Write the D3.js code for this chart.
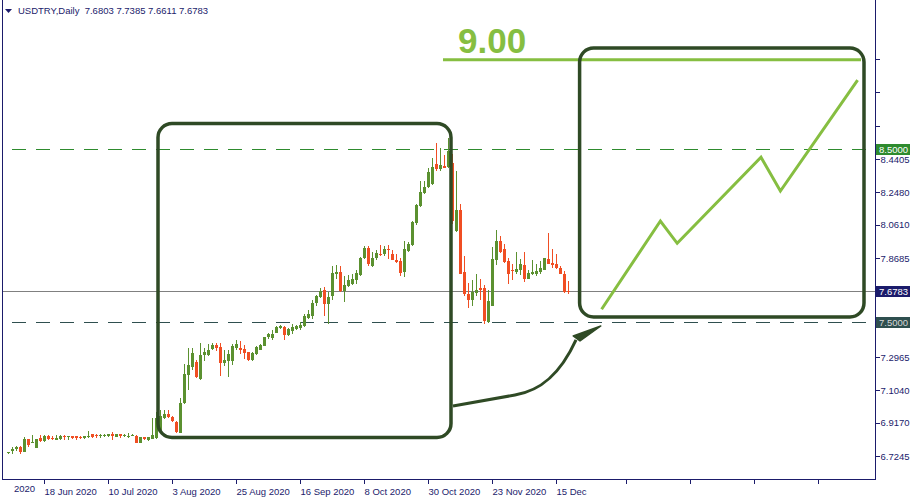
<!DOCTYPE html>
<html><head><meta charset="utf-8">
<script src="https://cdn.jsdelivr.net/npm/d3@7"></script>
<style>html,body{margin:0;padding:0;background:#fff;} svg{display:block;}</style>
</head><body>
<svg id="c" width="915" height="500"></svg>
<script>
// ---------- data ----------
const symbolTitle = "USDTRY,Daily  7.6803 7.7385 7.6611 7.6783";
const opens = [6.739,6.755,6.765,6.777,6.750,6.823,6.800,6.769,6.830,6.811,6.842,6.830,6.819,6.823,6.842,6.834,6.839,6.839,6.834,6.827,6.834,6.850,6.846,6.839,6.842,6.839,6.850,6.834,6.850,6.839,6.839,6.842,6.842,6.799,6.834,6.815,6.823,6.830,6.863,6.944,6.967,6.950,6.923,6.858,7.031,7.194,7.239,7.270,7.170,7.308,7.308,7.343,7.366,7.354,7.262,7.274,7.274,7.350,7.350,7.343,7.324,7.281,7.316,7.339,7.362,7.412,7.408,7.438,7.462,7.470,7.424,7.447,7.458,7.464,7.473,7.522,7.535,7.609,7.643,7.682,7.605,7.647,7.778,7.790,7.678,7.709,7.720,7.743,7.771,7.867,7.928,7.824,7.870,7.893,7.890,7.920,7.893,7.859,7.851,7.788,7.909,7.944,8.071,8.171,8.244,8.278,8.294,8.412,8.383,8.400,8.394,8.420,8.025,8.146,7.786,7.662,7.628,7.666,7.694,7.694,7.497,7.593,7.859,7.966,7.920,7.851,7.801,7.790,7.797,7.828,7.747,7.774,7.778,7.790,7.801,7.863,7.840,7.836,7.812,7.774,7.6803];
const highs = [6.748,6.777,6.784,6.784,6.834,6.824,6.846,6.824,6.846,6.846,6.846,6.839,6.846,6.846,6.846,6.839,6.839,6.842,6.842,6.839,6.869,6.854,6.854,6.854,6.854,6.854,6.862,6.850,6.854,6.850,6.858,6.850,6.846,6.834,6.835,6.835,6.946,6.979,6.990,6.990,6.990,6.957,6.925,7.062,7.258,7.350,7.350,7.281,7.378,7.350,7.373,7.378,7.378,7.378,7.335,7.335,7.373,7.393,7.389,7.366,7.328,7.328,7.362,7.373,7.413,7.438,7.451,7.477,7.481,7.477,7.466,7.486,7.481,7.497,7.543,7.566,7.624,7.655,7.694,7.701,7.674,7.821,7.830,7.824,7.763,7.771,7.778,7.798,7.874,7.936,7.940,7.905,7.917,7.944,7.940,7.944,7.913,7.890,7.870,7.966,7.962,8.082,8.182,8.313,8.313,8.386,8.448,8.533,8.504,8.464,8.562,8.470,8.371,8.179,7.878,7.724,7.740,7.778,7.747,7.713,7.682,7.932,8.032,7.994,7.948,7.870,7.836,7.905,7.863,7.905,7.798,7.859,7.832,7.851,7.871,8.013,7.920,7.890,7.824,7.793,7.7385];
const lows = [6.736,6.735,6.755,6.738,6.746,6.778,6.799,6.768,6.807,6.807,6.815,6.815,6.818,6.819,6.819,6.819,6.823,6.819,6.823,6.823,6.830,6.830,6.830,6.830,6.834,6.834,6.819,6.834,6.830,6.834,6.827,6.839,6.797,6.797,6.819,6.811,6.822,6.821,6.858,6.938,6.943,6.921,6.858,6.856,7.023,7.104,7.220,7.174,7.162,7.274,7.304,7.335,7.331,7.189,7.247,7.181,7.250,7.335,7.312,7.285,7.274,7.274,7.308,7.335,7.361,7.401,7.396,7.434,7.458,7.396,7.416,7.431,7.451,7.454,7.470,7.516,7.516,7.593,7.639,7.535,7.489,7.624,7.747,7.671,7.616,7.701,7.713,7.720,7.767,7.863,7.821,7.816,7.855,7.878,7.878,7.863,7.855,7.838,7.767,7.759,7.901,7.936,8.059,8.163,8.236,8.271,8.290,8.371,8.371,8.389,8.389,8.065,8.019,7.774,7.651,7.581,7.593,7.651,7.628,7.486,7.495,7.592,7.828,7.897,7.840,7.720,7.740,7.774,7.771,7.732,7.745,7.771,7.767,7.774,7.800,7.832,7.809,7.805,7.774,7.666,7.6611];
const closes = [6.745,6.765,6.777,6.746,6.823,6.788,6.803,6.823,6.811,6.842,6.823,6.823,6.830,6.839,6.834,6.839,6.830,6.830,6.827,6.839,6.842,6.834,6.842,6.846,6.846,6.850,6.842,6.850,6.839,6.846,6.842,6.846,6.799,6.834,6.823,6.834,6.846,6.944,6.956,6.967,6.950,6.927,6.862,7.031,7.198,7.250,7.320,7.181,7.308,7.324,7.339,7.366,7.350,7.262,7.281,7.316,7.362,7.373,7.335,7.320,7.281,7.320,7.354,7.366,7.412,7.428,7.431,7.470,7.477,7.424,7.458,7.470,7.477,7.484,7.534,7.543,7.609,7.651,7.678,7.605,7.643,7.782,7.790,7.678,7.713,7.743,7.747,7.782,7.870,7.928,7.836,7.870,7.897,7.886,7.920,7.913,7.859,7.844,7.782,7.920,7.949,8.075,8.175,8.248,8.278,8.367,8.394,8.383,8.403,8.391,8.487,8.085,8.146,7.778,7.659,7.624,7.674,7.682,7.682,7.505,7.620,7.863,7.966,7.905,7.844,7.778,7.793,7.805,7.832,7.747,7.782,7.790,7.793,7.809,7.870,7.836,7.828,7.812,7.778,7.670,7.6783];

// x axis (bar index) ticks and labels
const xTickIdx = [9, 25, 41, 57, 73, 89, 105, 121, 137, 154.5, 170.5, 186.5, 202.5];
const xTickLabels = ["18 Jun 2020","10 Jul 2020","3 Aug 2020","25 Aug 2020","16 Sep 2020","8 Oct 2020","30 Oct 2020","23 Nov 2020","15 Dec","","","",""];
const xPartialLabel = "2020";      // visible tail of the label left of 18 Jun
const xPartialLabelIdx = 1.5;
// y axis ticks
const yTicks = [6.7245, 6.9170, 7.1040, 7.2965, 7.4890, 7.6810, 7.8685, 8.0610, 8.2480, 8.4405, 8.6330, 8.8255, 9.0180];
const yTickLabels = ["6.7245","6.9170","7.1040","7.2965","","","7.8685","8.0610","8.2480","8.4405","","",""];

// horizontal levels
const levelUpper = 8.5000;
const levelLower = 7.5000;
const lastPrice = 7.6783;
const targetPrice = 9.014;
const targetText = "9.00";
const targetSpan = [108.75, 213.25];
const targetTextPos = [112.5, 9.053];

// annotation boxes [i0, i1, pTop, pBottom]
const box1 = [37.5, 110.75, 8.6455, 6.8316];
const box2 = [142.9, 214, 9.0817, 7.5277];
// forecast path (bar index, price)
const forecastIdx = [148.4, 163.1, 167.3, 188.25, 193.1, 212.4];
const forecastPrice = [7.5722, 8.0823, 7.9534, 8.4503, 8.2556, 8.8968];
// arrow from box1 to box2 (bar index, price)
const arrowIdx = [111.25, 126.75, 133, 138, 142];
const arrowPrice = [7.0135, 7.0771, 7.1002, 7.1926, 7.3948];
const arrowHeadIdx = [141.3, 148.2, 143.0];
const arrowHeadPrice = [7.4180, 7.4757, 7.3890];

// ---------- drawing ----------
const svg = d3.select("#c");
const W = 915, H = 500;
const plotL = 2, plotR = 875, plotB = 479;
const axisColor = "#1b1b6b";
const upColor = "#5b9130", downColor = "#f04e23";
const boxColor = "#2f4a25", fcColor = "#86be41";
const font = "'Liberation Sans', Arial, sans-serif";

svg.append("rect").attr("width", W).attr("height", H).attr("fill", "#fff");

const x = d3.scaleLinear().domain([0, 216.5]).range([8, 874]);
const y = d3.scaleLinear().domain([6.7245, 8.4405]).range([456, 159]);

svg.append("defs").append("clipPath").attr("id", "plot")
  .append("rect").attr("x", plotL + 1).attr("y", 0).attr("width", plotR - plotL - 1).attr("height", plotB);

const g = svg.append("g").attr("clip-path", "url(#plot)");

// horizontal level lines
g.append("line").attr("x1", plotL + 1).attr("x2", plotR).attr("y1", Math.round(y(lastPrice)) + 0.5).attr("y2", Math.round(y(lastPrice)) + 0.5)
  .attr("stroke", "#808080").attr("stroke-width", 1);
[[levelUpper, "#2e8b2e"], [levelLower, "#2f4f4f"]].forEach(([p, col]) => {
  g.append("line").attr("x1", plotL + 1).attr("x2", plotR).attr("y1", Math.round(y(p)) + 0.5).attr("y2", Math.round(y(p)) + 0.5)
    .attr("stroke", col).attr("stroke-width", 1).attr("stroke-dasharray", "14,10").attr("stroke-dashoffset", 15);
});

// candles
const candles = opens.map((o, i) => ({i, o, h: highs[i], l: lows[i], c: closes[i]}));
const cg = g.append("g").attr("shape-rendering", "crispEdges");
cg.selectAll("line.wick").data(candles).join("line").attr("class", "wick")
  .attr("x1", d => Math.round(x(d.i)) + 0.5).attr("x2", d => Math.round(x(d.i)) + 0.5)
  .attr("y1", d => y(d.h)).attr("y2", d => y(d.l))
  .attr("stroke", d => d.c >= d.o ? upColor : downColor).attr("stroke-width", 1);
cg.selectAll("rect.body").data(candles).join("rect").attr("class", "body")
  .attr("x", d => Math.round(x(d.i)) - 1).attr("width", 3)
  .attr("y", d => Math.min(y(d.o), y(d.c)))
  .attr("height", d => Math.max(1, Math.abs(y(d.o) - y(d.c))))
  .attr("fill", d => d.c >= d.o ? upColor : downColor);

// target line and text
g.append("line").attr("x1", x(targetSpan[0])).attr("x2", x(targetSpan[1]))
  .attr("y1", y(targetPrice)).attr("y2", y(targetPrice)).attr("stroke", fcColor).attr("stroke-width", 3);
g.append("text").attr("x", x(targetTextPos[0])).attr("y", y(targetTextPos[1]))
  .attr("font-family", font).attr("font-weight", "bold").attr("font-size", 35).attr("fill", fcColor).text(targetText);

// boxes
[box1, box2].forEach(b => {
  g.append("rect").attr("x", x(b[0])).attr("y", y(b[2])).attr("width", x(b[1]) - x(b[0])).attr("height", y(b[3]) - y(b[2]))
    .attr("rx", 14).attr("ry", 14).attr("fill", "none").attr("stroke", boxColor).attr("stroke-width", 3.5);
});

// arrow
const ap = arrowIdx.map((v, k) => [x(v), y(arrowPrice[k])]);
const p = d3.path();
p.moveTo(ap[0][0], ap[0][1]);
p.lineTo(ap[1][0], ap[1][1]);
p.bezierCurveTo(ap[2][0], ap[2][1], ap[3][0], ap[3][1], ap[4][0], ap[4][1]);
g.append("path").attr("d", p.toString()).attr("fill", "none").attr("stroke", boxColor).attr("stroke-width", 3);
g.append("path").attr("d", d3.line()(arrowHeadIdx.map((v, k) => [x(v), y(arrowHeadPrice[k])])) + "Z")
  .attr("fill", boxColor).attr("stroke", boxColor).attr("stroke-width", 1.5).attr("stroke-linejoin", "round");

// forecast path
g.append("path").attr("d", d3.line()(forecastIdx.map((v, k) => [x(v), y(forecastPrice[k])])))
  .attr("fill", "none").attr("stroke", fcColor).attr("stroke-width", 3).attr("stroke-linejoin", "miter");

// frame / axes
svg.append("line").attr("x1", plotL + 0.5).attr("x2", plotL + 0.5).attr("y1", 0).attr("y2", plotB + 0.5).attr("stroke", axisColor);
svg.append("line").attr("x1", plotR + 0.5).attr("x2", plotR + 0.5).attr("y1", 0).attr("y2", plotB + 0.5).attr("stroke", axisColor);
svg.append("line").attr("x1", plotL).attr("x2", plotR + 1).attr("y1", plotB + 0.5).attr("y2", plotB + 0.5).attr("stroke", axisColor);

// y axis
const yAxis = d3.axisRight(y).tickValues(yTicks).tickSize(4).tickPadding(1)
  .tickFormat((d, k) => yTickLabels[k]);
const ya = svg.append("g").attr("transform", `translate(${plotR + 0.5},0)`).call(yAxis);
ya.select(".domain").remove();
ya.selectAll("line").attr("stroke", axisColor).attr("shape-rendering", "crispEdges");
ya.selectAll("text").attr("fill", axisColor).attr("font-family", font).attr("font-size", 9.5);

// x axis
const xAxis = d3.axisBottom(x).tickValues(xTickIdx).tickSize(4).tickFormat((d, k) => xTickLabels[k]);
const xa = svg.append("g").attr("transform", `translate(0,${plotB + 0.5})`).call(xAxis);
xa.select(".domain").remove();
xa.selectAll("line").attr("stroke", axisColor).attr("shape-rendering", "crispEdges");
xa.selectAll("text").attr("fill", axisColor).attr("font-family", font).attr("font-size", 9.5)
  .attr("text-anchor", "start").attr("dy", "0.9em").attr("x", 0);
svg.append("text").attr("x", x(xPartialLabelIdx)).attr("y", plotB + 4).attr("dy", "0.9em")
  .attr("fill", axisColor).attr("font-family", font).attr("font-size", 9.5).text(xPartialLabel);

// price labels
[[levelUpper, "#2e8b2e", "#fff"], [lastPrice, "#1b1b6b", "#fff"], [levelLower, "#2f4f4f", "#d8d8d8"]].forEach(([pr, bg, fg]) => {
  const yy = Math.round(y(pr));
  svg.append("rect").attr("x", plotR + 1).attr("y", yy - 5).attr("width", 34).attr("height", 11).attr("fill", bg);
  svg.append("text").attr("x", plotR + 4).attr("y", yy + 0.5).attr("dy", "0.35em")
    .attr("font-family", font).attr("font-size", 9.5).attr("fill", fg).text(pr.toFixed(4));
});

// header
svg.append("path").attr("d", "M5,9L12,9L8.5,13Z").attr("fill", axisColor);
svg.append("text").attr("x", 18).attr("y", 14).attr("font-family", font).attr("font-size", 9.5)
  .attr("fill", axisColor).attr("xml:space", "preserve").style("white-space", "pre").text(symbolTitle);
</script>
</body></html>
